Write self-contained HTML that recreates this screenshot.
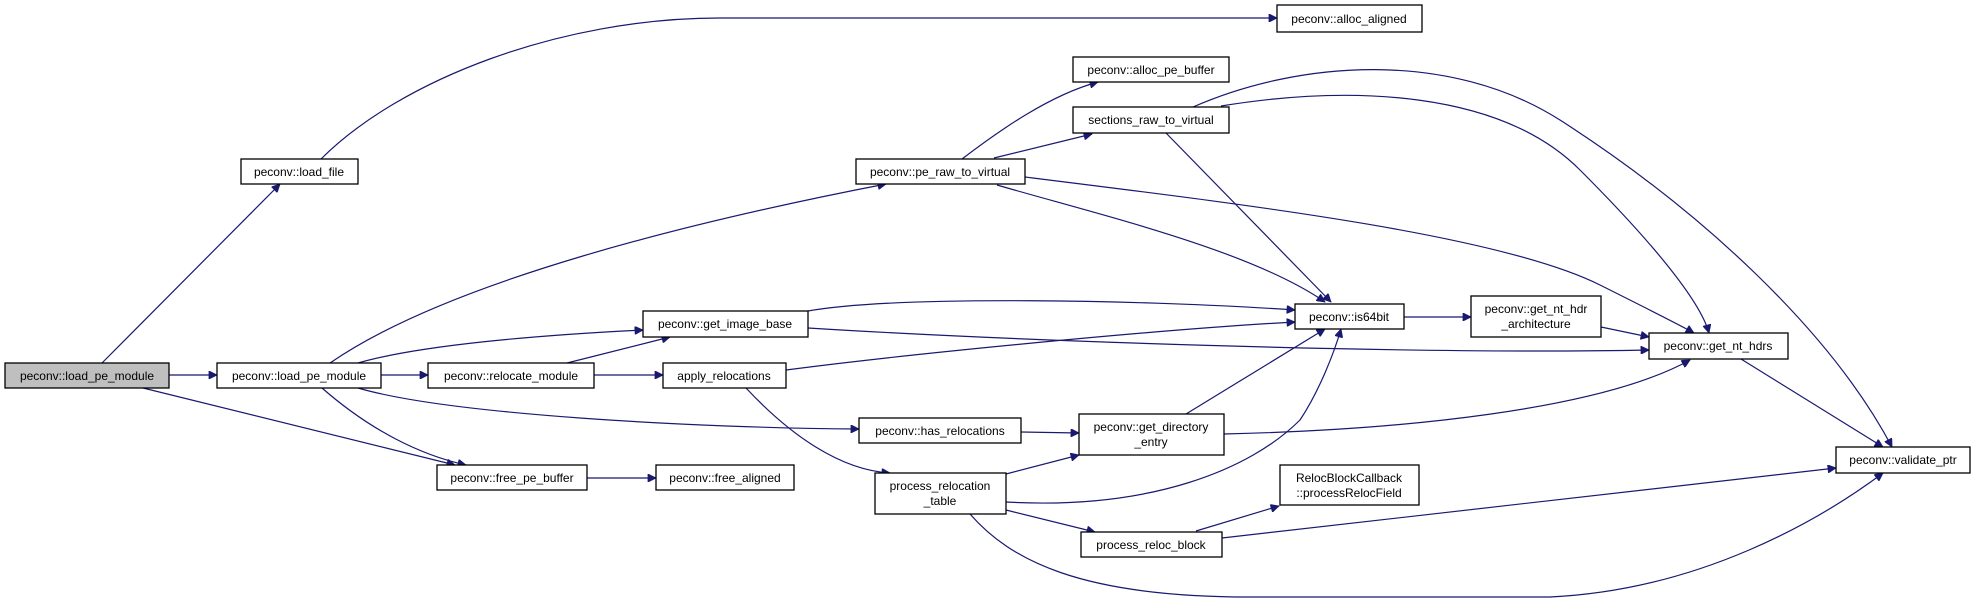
<!DOCTYPE html>
<html><head><meta charset="utf-8"><style>
html,body{margin:0;padding:0;background:#fff;}
svg{display:block}
text{font-family:"Liberation Sans",sans-serif;font-size:12px;fill:#000}
.n{fill:#fff;stroke:#000;stroke-width:1.3}
.e{fill:none;stroke:#191970;stroke-width:1.2}
</style></head><body>
<svg width="1976" height="600" viewBox="0 0 1976 600" xmlns="http://www.w3.org/2000/svg">
<defs><marker id="a" viewBox="0 0 10 10" refX="10" refY="5" markerWidth="10" markerHeight="8" orient="auto" markerUnits="userSpaceOnUse"><path d="M0,0 L10,5 L0,10 z" fill="#191970" stroke="#191970"/></marker></defs>
<g class="e" marker-end="url(#a)">
<path d="M102,363 L280,184"/>
<path d="M169,375 L217,375"/>
<path d="M143,388 L455,465"/>
<path d="M321,159 C400,80 560,18 720,18 L1277,18"/>
<path d="M330,363 C450,280 700,220 886,184"/>
<path d="M358,363 C420,345 540,335 643,330"/>
<path d="M381,375 L428,375"/>
<path d="M358,388 C450,415 700,428 859,429"/>
<path d="M322,388 C370,430 420,455 466,465"/>
<path d="M567,363 L670,337"/>
<path d="M594,375 L663,375"/>
<path d="M786,370 C900,355 1150,330 1295,322"/>
<path d="M746,388 C790,435 840,470 890,473"/>
<path d="M587,478 L656,478"/>
<path d="M808,311 C900,295 1150,300 1295,310"/>
<path d="M808,328 C1000,340 1400,355 1649,350"/>
<path d="M962,159 C1000,130 1050,95 1098,82"/>
<path d="M994,158 L1092,134"/>
<path d="M997,185 C1100,215 1250,250 1325,302"/>
<path d="M1025,177 C1250,205 1500,235 1600,285 C1650,310 1680,325 1694,333"/>
<path d="M1166,133 L1331,302"/>
<path d="M1221,106 C1350,85 1500,90 1580,170 C1650,240 1700,300 1709,333"/>
<path d="M1193,107 C1300,60 1450,50 1560,120 C1700,210 1830,330 1892,447"/>
<path d="M1404,317 L1471,317"/>
<path d="M1601,327 L1649,337"/>
<path d="M1741,359 L1883,447"/>
<path d="M1021,432 L1079,433"/>
<path d="M1186,414 L1325,329"/>
<path d="M1224,434 C1400,430 1600,410 1690,360"/>
<path d="M1006,474 L1079,455"/>
<path d="M1006,502 C1150,510 1250,470 1300,420 C1320,390 1335,350 1341,329"/>
<path d="M1006,510 L1095,532"/>
<path d="M970,514 C1010,560 1080,597 1250,597 L1550,597 C1700,590 1820,520 1883,473"/>
<path d="M1196,531 L1279,506"/>
<path d="M1222,538 L1836,468"/>
</g>
<g>
<rect class="n" x="5" y="363" width="164" height="25" style="fill:#bfbfbf"/><text x="87" y="380" text-anchor="middle">peconv::load_pe_module</text>
<rect class="n" x="241" y="159" width="117" height="25"/><text x="299" y="176" text-anchor="middle">peconv::load_file</text>
<rect class="n" x="856" y="159" width="169" height="25"/><text x="940" y="176" text-anchor="middle">peconv::pe_raw_to_virtual</text>
<rect class="n" x="643" y="311" width="165" height="26"/><text x="725" y="328" text-anchor="middle">peconv::get_image_base</text>
<rect class="n" x="217" y="363" width="164" height="25"/><text x="299" y="380" text-anchor="middle">peconv::load_pe_module</text>
<rect class="n" x="428" y="363" width="166" height="25"/><text x="511" y="380" text-anchor="middle">peconv::relocate_module</text>
<rect class="n" x="663" y="363" width="123" height="25"/><text x="724" y="380" text-anchor="middle">apply_relocations</text>
<rect class="n" x="859" y="418" width="162" height="25"/><text x="940" y="435" text-anchor="middle">peconv::has_relocations</text>
<rect class="n" x="437" y="465" width="150" height="25"/><text x="512" y="482" text-anchor="middle">peconv::free_pe_buffer</text>
<rect class="n" x="656" y="465" width="138" height="25"/><text x="725" y="482" text-anchor="middle">peconv::free_aligned</text>
<rect class="n" x="875" y="473" width="131" height="41"/><text x="940" y="490" text-anchor="middle">process_relocation</text><text x="940" y="505" text-anchor="middle">_table</text>
<rect class="n" x="1277" y="5" width="145" height="27"/><text x="1349" y="23" text-anchor="middle">peconv::alloc_aligned</text>
<rect class="n" x="1073" y="57" width="156" height="25"/><text x="1151" y="74" text-anchor="middle">peconv::alloc_pe_buffer</text>
<rect class="n" x="1073" y="107" width="156" height="26"/><text x="1151" y="124" text-anchor="middle">sections_raw_to_virtual</text>
<rect class="n" x="1295" y="304" width="109" height="25"/><text x="1349" y="321" text-anchor="middle">peconv::is64bit</text>
<rect class="n" x="1471" y="296" width="130" height="41"/><text x="1536" y="313" text-anchor="middle">peconv::get_nt_hdr</text><text x="1536" y="328" text-anchor="middle">_architecture</text>
<rect class="n" x="1649" y="333" width="139" height="26"/><text x="1718" y="350" text-anchor="middle">peconv::get_nt_hdrs</text>
<rect class="n" x="1079" y="414" width="145" height="41"/><text x="1151" y="431" text-anchor="middle">peconv::get_directory</text><text x="1151" y="446" text-anchor="middle">_entry</text>
<rect class="n" x="1836" y="447" width="134" height="26"/><text x="1903" y="464" text-anchor="middle">peconv::validate_ptr</text>
<rect class="n" x="1280" y="465" width="139" height="40"/><text x="1349" y="482" text-anchor="middle">RelocBlockCallback</text><text x="1349" y="497" text-anchor="middle">::processRelocField</text>
<rect class="n" x="1081" y="532" width="141" height="25"/><text x="1151" y="549" text-anchor="middle">process_reloc_block</text>
</g>
</svg>
</body></html>
